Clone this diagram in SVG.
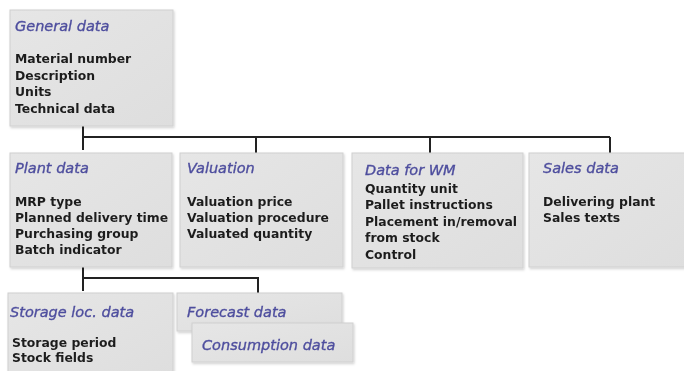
<svg xmlns="http://www.w3.org/2000/svg" width="684" height="371" viewBox="0 0 684 371">
<style>
.box{fill:url(#g);stroke:#d0d0d0;stroke-width:1}
.t{font-family:"DejaVu Sans",Verdana,sans-serif;font-style:italic;font-size:14.5px;fill:#4e4e9e;stroke:#4e4e9e;stroke-width:0.35}
.b{font-family:"DejaVu Sans",Verdana,sans-serif;font-weight:bold;font-size:12.4px;fill:#1e1e1e}
.c{fill:none;stroke:#222;stroke-width:2}
</style>
<defs>
<linearGradient id="g" x1="0" y1="0" x2="1" y2="1">
<stop offset="0" stop-color="#e6e6e6"/>
<stop offset="1" stop-color="#dedede"/>
</linearGradient>
<filter id="sh" x="-5%" y="-5%" width="115%" height="120%">
<feDropShadow dx="1" dy="1.5" stdDeviation="1" flood-color="#000" flood-opacity="0.18"/>
</filter>
</defs>
<rect width="684" height="371" fill="#fff"/>
<g id="connectors">
<path class="c" d="M83 126V150M83 137H610M256 137V153M430 137V153M610 137V153"/>
<path class="c" d="M83 267V291M83 278H258V293"/>
</g>
<g id="general" filter="url(#sh)">
<rect class="box" x="10" y="10" width="163" height="116"/>
<text class="t" x="15" y="31">General data</text>
<text class="b" x="15" y="63">Material number</text>
<text class="b" x="15" y="79.5">Description</text>
<text class="b" x="15" y="96">Units</text>
<text class="b" x="15" y="112.5">Technical data</text>
</g>
<g id="plant" filter="url(#sh)">
<rect class="box" x="10" y="153" width="162" height="114"/>
<text class="t" x="15" y="173">Plant data</text>
<text class="b" x="15" y="206">MRP type</text>
<text class="b" x="15" y="222">Planned delivery time</text>
<text class="b" x="15" y="238">Purchasing group</text>
<text class="b" x="15" y="254">Batch indicator</text>
</g>
<g id="valuation" filter="url(#sh)">
<rect class="box" x="180" y="153" width="163" height="114"/>
<text class="t" x="187" y="173">Valuation</text>
<text class="b" x="187" y="206">Valuation price</text>
<text class="b" x="187" y="222">Valuation procedure</text>
<text class="b" x="187" y="238">Valuated quantity</text>
</g>
<g id="wm" filter="url(#sh)">
<rect class="box" x="352" y="153" width="171" height="115"/>
<text class="t" x="365" y="175">Data for WM</text>
<text class="b" x="365" y="193">Quantity unit</text>
<text class="b" x="365" y="209">Pallet instructions</text>
<text class="b" x="365" y="226">Placement in/removal</text>
<text class="b" x="365" y="242">from stock</text>
<text class="b" x="365" y="259">Control</text>
</g>
<g id="sales" filter="url(#sh)">
<rect class="box" x="529" y="153" width="160" height="114"/>
<text class="t" x="543" y="173">Sales data</text>
<text class="b" x="543" y="206">Delivering plant</text>
<text class="b" x="543" y="222">Sales texts</text>
</g>
<g id="storage" filter="url(#sh)">
<rect class="box" x="8" y="293" width="165" height="82"/>
<text class="t" x="10" y="317">Storage loc. data</text>
<text class="b" x="12" y="347">Storage period</text>
<text class="b" x="12" y="362">Stock fields</text>
</g>
<g id="forecast" filter="url(#sh)">
<rect class="box" x="177" y="293" width="165" height="38"/>
<text class="t" x="187" y="317">Forecast data</text>
</g>
<g id="consumption" filter="url(#sh)">
<rect class="box" x="192" y="323" width="161" height="39"/>
<text class="t" x="202" y="350">Consumption data</text>
</g>
</svg>
